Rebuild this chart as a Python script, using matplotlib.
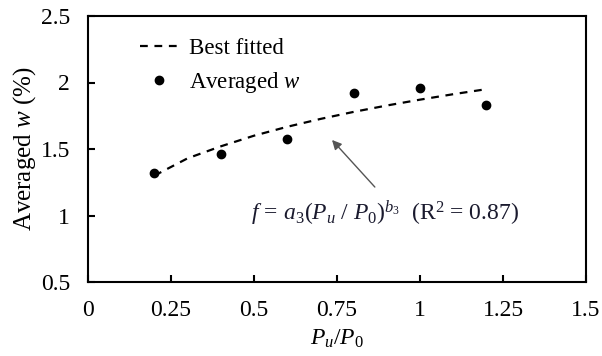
import matplotlib
matplotlib.use("Agg")
import matplotlib.pyplot as plt

# Data
pu_p0 = [0.2, 0.4, 0.6, 0.8, 1.0, 1.2]
averaged_w = [1.32, 1.465, 1.573, 1.919, 1.959, 1.83]

fit_x = [0.2, 0.3, 0.4, 0.5, 0.6, 0.7, 0.8, 0.9, 1.0, 1.1, 1.2]
fit_y = [1.30, 1.43, 1.52, 1.60, 1.667, 1.726, 1.779, 1.827, 1.871, 1.912, 1.95]

x_ticks = [0, 0.25, 0.5, 0.75, 1, 1.25, 1.5]
x_tick_labels = ["0", "0.25", "0.5", "0.75", "1", "1.25", "1.5"]
y_ticks = [0.5, 1, 1.5, 2, 2.5]
y_tick_labels = ["0.5", "1", "1.5", "2", "2.5"]

plt.rcParams['font.family'] = ['Liberation Serif', 'DejaVu Serif']
plt.rcParams['mathtext.fontset'] = 'custom'
plt.rcParams['mathtext.rm'] = 'Liberation Serif'
plt.rcParams['mathtext.it'] = 'Liberation Serif:italic'

fig = plt.figure(figsize=(6.02, 3.56), dpi=100)
ax = fig.add_axes([88/602, 1-282/356, (586-88)/602, (282-16)/356])

ax.plot(fit_x, fit_y, color='black', linestyle=(0, (3.5, 3)), linewidth=1.6, label='Best fitted')
ax.plot(pu_p0, averaged_w, 'o', color='black', markersize=6, label='Averaged $w$')

ax.set_xlim(0, 1.5)
ax.set_ylim(0.5, 2.5)
ax.set_xticks(x_ticks)
ax.set_xticklabels(x_tick_labels)
ax.set_yticks(y_ticks)
ax.set_yticklabels(y_tick_labels)
ax.tick_params(direction='in', length=5, width=1.5, labelsize=17,
               top=False, right=False)
ax.tick_params(axis='x', pad=13)
ax.tick_params(axis='y', pad=13)
for s in ax.spines.values():
    s.set_linewidth(1.5)

ax.set_xlabel('$P_u/P_0$', fontsize=17, labelpad=5)
ax.set_ylabel('Averaged $w$ (%)', fontsize=18, labelpad=2)

leg = ax.legend(loc='upper left', bbox_to_anchor=(0.062, 0.995), frameon=False,
                fontsize=16.5, handlelength=1.7, handletextpad=0.45, labelspacing=0.5)

ax.annotate('', xy=(0.735, 1.568), xytext=(0.864, 1.214),
            arrowprops=dict(arrowstyle='-|>', color='#555555', lw=1.0,
                            mutation_scale=14, shrinkA=0, shrinkB=0))
ax.text(0.895, 1.02, r'$f\,=\,a_3(P_u\ /\ P_0)^{b_3}$  (R$^{2}$ = 0.87)',
        fontsize=17, ha='center', va='center', color='#1a1a2e')

fig.savefig('out.png', dpi=100)
